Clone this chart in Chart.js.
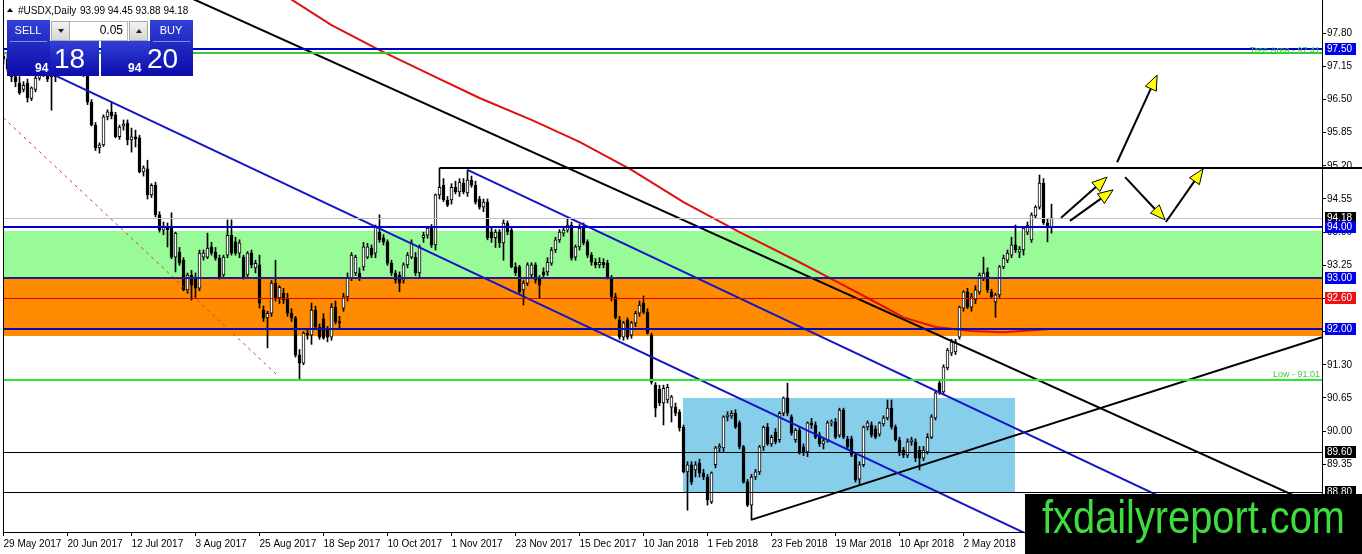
<!DOCTYPE html>
<html>
<head>
<meta charset="utf-8">
<title>#USDX,Daily</title>
<script src="https://cdn.jsdelivr.net/npm/chart.js@4.4.1/dist/chart.umd.min.js"></script>
<style>
  html, body { margin: 0; padding: 0; background: #fff; }
  #wrap { width: 1362px; height: 554px; }
</style>
</head>
<body>
<div id="wrap"><canvas id="usdx" width="1362" height="554"></canvas></div>
<script>
// daily bars, 29 May 2017 .. 31 May 2018 (one per weekday)
const opens = [
  97.35, 97.30, 97.10, 96.95, 96.82, 96.70, 96.82, 96.52, 96.70, 96.92,
  97.20, 97.00, 96.98, 96.95, 97.05, 97.15, 97.50, 97.70, 97.55, 97.35,
  97.20, 96.98, 96.45, 96.00, 95.55, 95.61, 96.16, 96.26, 96.20, 95.77,
  95.98, 96.04, 95.71, 95.77, 95.75, 95.08, 95.14, 94.63, 94.82, 94.24,
  93.94, 94.02, 94.00, 93.41, 93.51, 93.35, 92.77, 93.06, 93.02, 92.80,
  93.41, 93.41, 93.61, 93.51, 93.39, 93.06, 93.45, 93.84, 93.71, 93.49,
  93.41, 93.06, 93.49, 93.20, 93.26, 92.37, 92.22, 92.31, 92.90, 92.61,
  92.70, 92.61, 92.31, 92.22, 91.49, 91.33, 91.92, 91.88, 92.37, 92.04,
  92.20, 91.98, 91.84, 92.43, 92.14, 92.41, 92.63, 93.00, 93.10, 93.10,
  93.22, 93.41, 93.59, 93.49, 93.90, 93.79, 93.71, 93.29, 93.10, 93.06,
  92.96, 93.26, 93.41, 93.41, 93.10, 93.79, 93.84, 93.98, 93.65, 94.63,
  94.82, 94.53, 94.53, 94.78, 94.69, 94.86, 94.67, 94.92, 94.82, 94.55,
  94.39, 94.49, 93.90, 93.79, 93.90, 93.69, 94.08, 93.94, 93.22, 93.22,
  92.77, 92.90, 93.06, 93.26, 93.00, 93.12, 93.12, 93.29, 93.55, 93.75,
  93.88, 93.94, 94.04, 93.41, 93.61, 94.00, 93.71, 93.45, 93.31, 93.26,
  93.31, 93.29, 93.02, 92.63, 92.18, 91.84, 92.18, 91.88, 92.12, 92.31,
  92.51, 92.33, 91.88, 90.90, 90.82, 90.55, 90.61, 90.47, 90.47, 90.37,
  90.08, 89.20, 89.34, 89.24, 89.37, 89.18, 89.10, 88.61, 89.34, 89.67,
  89.67, 90.28, 90.30, 90.35, 90.16, 89.69, 89.00, 88.55, 89.10, 89.20,
  89.69, 90.08, 89.75, 89.98, 89.83, 90.35, 90.65, 90.28, 89.83, 90.02,
  89.69, 89.59, 90.16, 90.12, 89.92, 89.75, 89.83, 90.16, 90.18, 89.92,
  90.41, 89.85, 89.85, 89.53, 89.06, 89.34, 90.08, 90.12, 90.04, 89.94,
  90.14, 90.26, 90.45, 90.08, 89.83, 89.63, 89.53, 89.79, 89.79, 89.63,
  89.47, 89.59, 89.88, 90.26, 90.94, 90.77, 91.24, 91.53, 91.55, 91.84,
  92.41, 92.73, 92.43, 92.57, 92.73, 93.00, 93.12, 92.73, 92.53, 92.67,
  93.22, 93.35, 93.45, 93.65, 93.51, 93.55, 93.90, 93.75, 94.22, 94.39,
  94.86, 94.08, 93.99
];
const highs = [
  97.45, 97.40, 97.15, 97.05, 96.95, 96.85, 96.90, 96.75, 96.98, 97.25,
  97.30, 97.10, 97.02, 97.10, 97.30, 97.55, 97.85, 97.80, 97.60, 97.40,
  97.35, 97.12, 96.50, 96.05, 95.65, 96.20, 96.30, 96.45, 96.25, 96.00,
  96.10, 96.10, 95.94, 95.90, 95.80, 95.20, 95.31, 94.85, 94.88, 94.30,
  94.10, 94.08, 94.28, 93.90, 93.60, 93.40, 93.10, 93.15, 93.10, 93.55,
  93.55, 93.88, 93.70, 93.60, 93.45, 93.45, 94.14, 94.14, 93.80, 93.75,
  93.45, 93.52, 93.55, 93.35, 93.45, 92.45, 92.35, 92.95, 93.35, 92.85,
  92.80, 92.70, 92.40, 92.25, 91.60, 91.95, 92.00, 92.51, 92.45, 92.10,
  92.30, 92.05, 92.50, 92.55, 92.25, 92.70, 93.10, 93.50, 93.45, 93.20,
  93.70, 93.68, 93.65, 94.04, 94.24, 93.85, 93.75, 93.35, 93.15, 93.12,
  93.30, 93.50, 93.75, 93.50, 93.65, 93.90, 94.00, 94.05, 94.65, 95.16,
  94.95, 94.60, 94.85, 94.90, 94.95, 94.95, 95.12, 95.00, 94.90, 94.60,
  94.55, 94.55, 93.98, 93.95, 93.95, 94.14, 94.12, 94.00, 93.30, 93.25,
  92.95, 93.30, 93.30, 93.30, 93.05, 93.20, 93.40, 93.60, 93.80, 93.95,
  94.00, 94.18, 94.10, 93.65, 94.05, 94.08, 93.75, 93.50, 93.38, 93.40,
  93.38, 93.35, 93.05, 92.70, 92.25, 92.15, 92.22, 92.15, 92.35, 92.55,
  92.65, 92.40, 91.92, 90.95, 90.90, 90.90, 90.92, 90.70, 90.55, 90.42,
  90.12, 89.40, 89.40, 89.40, 89.45, 89.25, 89.15, 89.20, 89.70, 89.75,
  90.30, 90.38, 90.40, 90.42, 90.20, 89.72, 89.05, 89.15, 89.25, 89.72,
  90.10, 90.15, 89.92, 90.05, 90.38, 90.67, 90.94, 90.32, 90.05, 90.08,
  89.75, 90.18, 90.25, 90.18, 89.98, 89.85, 90.20, 90.22, 90.25, 90.45,
  90.45, 89.90, 89.90, 89.58, 89.40, 90.10, 90.20, 90.18, 90.10, 90.18,
  90.30, 90.61, 90.61, 90.12, 89.88, 89.68, 89.85, 89.88, 89.85, 89.70,
  89.70, 89.95, 90.32, 90.80, 91.00, 91.30, 91.62, 91.80, 91.80, 92.45,
  92.75, 92.80, 92.70, 92.85, 93.10, 93.41, 93.20, 92.78, 92.70, 93.25,
  93.45, 93.55, 93.80, 94.04, 93.62, 94.00, 94.10, 94.28, 94.42, 95.02,
  94.95, 94.15, 94.45
];
const lows = [
  97.20, 97.05, 96.85, 96.75, 96.60, 96.65, 96.45, 96.48, 96.65, 96.88,
  96.95, 96.85, 96.29, 96.85, 97.00, 97.10, 97.45, 97.45, 97.25, 97.10,
  96.95, 96.40, 95.98, 95.50, 95.45, 95.58, 96.10, 96.12, 95.75, 95.72,
  95.90, 95.61, 95.47, 95.57, 95.06, 95.00, 94.55, 94.58, 94.20, 93.90,
  93.85, 93.61, 93.38, 93.12, 93.25, 92.75, 92.70, 92.57, 92.62, 92.75,
  93.35, 93.38, 93.45, 93.35, 92.98, 93.00, 93.40, 93.45, 93.45, 93.40,
  92.98, 93.00, 93.20, 93.10, 92.41, 92.15, 91.63, 92.25, 92.55, 92.50,
  92.50, 92.25, 92.15, 91.45, 91.01, 91.30, 91.80, 91.70, 92.00, 91.80,
  91.80, 91.75, 91.78, 92.10, 92.00, 92.35, 92.55, 92.95, 93.05, 92.95,
  93.15, 93.38, 93.40, 93.40, 93.70, 93.65, 93.25, 93.05, 92.90, 92.73,
  92.90, 93.20, 93.38, 93.05, 93.00, 93.70, 93.78, 93.60, 93.55, 94.55,
  94.50, 94.40, 94.45, 94.65, 94.60, 94.65, 94.60, 94.78, 94.45, 94.35,
  94.30, 93.75, 93.70, 93.60, 93.60, 93.35, 93.85, 93.20, 93.05, 92.70,
  92.47, 92.85, 93.00, 92.90, 92.61, 93.00, 93.05, 93.25, 93.50, 93.70,
  93.82, 93.90, 93.35, 93.35, 93.55, 93.65, 93.40, 93.25, 93.20, 93.20,
  93.20, 92.98, 92.55, 92.20, 91.80, 91.78, 91.80, 91.82, 92.05, 92.25,
  92.30, 91.90, 90.92, 90.28, 90.50, 90.12, 90.55, 90.18, 90.30, 90.00,
  89.18, 88.45, 88.95, 89.10, 89.10, 89.05, 88.55, 88.58, 89.28, 89.58,
  89.60, 90.20, 90.25, 90.05, 89.65, 88.98, 88.52, 88.26, 89.05, 89.15,
  89.62, 89.72, 89.70, 89.75, 89.78, 90.30, 90.30, 89.92, 89.78, 89.55,
  89.52, 89.50, 90.05, 89.85, 89.70, 89.65, 89.78, 90.10, 89.85, 89.88,
  89.85, 89.65, 89.50, 89.00, 88.95, 89.30, 90.02, 89.88, 89.85, 89.90,
  90.10, 90.22, 90.04, 89.80, 89.52, 89.48, 89.48, 89.72, 89.40, 89.24,
  89.42, 89.55, 89.85, 90.22, 90.72, 90.72, 91.20, 91.48, 91.50, 91.80,
  92.35, 92.40, 92.35, 92.50, 92.68, 92.95, 92.72, 92.60, 92.23, 92.62,
  93.18, 93.30, 93.40, 93.50, 93.40, 93.45, 93.85, 93.70, 94.18, 94.35,
  94.05, 93.71, 93.88
];
const closes = [
  97.30, 97.10, 96.95, 96.85, 96.63, 96.78, 96.53, 96.73, 96.92, 97.20,
  97.00, 96.90, 96.94, 97.05, 97.15, 97.50, 97.70, 97.55, 97.35, 97.20,
  97.05, 96.45, 96.00, 95.55, 95.61, 96.16, 96.26, 96.18, 95.77, 95.96,
  96.02, 95.71, 95.77, 95.73, 95.08, 95.16, 94.63, 94.82, 94.24, 93.94,
  94.02, 93.95, 93.41, 93.88, 93.29, 92.77, 93.06, 92.86, 92.80, 93.49,
  93.49, 93.59, 93.49, 93.39, 93.02, 93.41, 93.84, 93.49, 93.49, 93.69,
  93.02, 93.49, 93.26, 93.29, 92.51, 92.22, 92.31, 92.90, 92.61, 92.82,
  92.57, 92.31, 92.22, 91.49, 91.33, 91.92, 91.88, 92.37, 92.04, 91.84,
  91.82, 91.84, 92.43, 92.14, 92.12, 92.63, 93.00, 93.45, 93.41, 93.00,
  93.61, 93.61, 93.45, 94.00, 93.75, 93.71, 93.29, 93.10, 92.96, 92.90,
  93.26, 93.45, 93.69, 93.10, 93.61, 93.84, 93.98, 93.65, 94.63, 94.78,
  94.53, 94.43, 94.78, 94.69, 94.88, 94.69, 94.92, 94.82, 94.49, 94.39,
  94.49, 93.79, 93.79, 93.90, 93.69, 94.08, 93.90, 93.22, 93.10, 92.73,
  92.90, 93.26, 93.26, 92.96, 92.86, 93.06, 93.31, 93.55, 93.75, 93.90,
  93.94, 94.04, 93.39, 93.61, 93.98, 93.69, 93.45, 93.31, 93.26, 93.31,
  93.26, 93.02, 92.63, 92.23, 91.84, 92.12, 91.84, 92.12, 92.31, 92.47,
  92.33, 91.92, 90.96, 90.45, 90.55, 90.84, 90.86, 90.67, 90.35, 90.06,
  89.20, 89.34, 89.00, 89.34, 89.18, 89.10, 88.65, 89.18, 89.67, 89.70,
  90.28, 90.32, 90.35, 90.08, 89.69, 89.00, 88.55, 89.10, 89.20, 89.69,
  90.08, 89.75, 89.88, 89.79, 90.35, 90.65, 90.35, 89.96, 90.02, 89.59,
  89.59, 90.16, 90.12, 89.88, 89.75, 89.81, 90.16, 90.18, 89.88, 90.41,
  89.88, 89.69, 89.53, 89.04, 89.34, 90.08, 90.16, 89.92, 89.88, 90.16,
  90.26, 90.45, 90.08, 89.83, 89.57, 89.53, 89.79, 89.83, 89.47, 89.47,
  89.63, 89.88, 90.28, 90.75, 90.75, 91.26, 91.59, 91.75, 91.75, 92.43,
  92.73, 92.43, 92.63, 92.77, 93.06, 93.10, 92.77, 92.63, 92.67, 93.22,
  93.39, 93.49, 93.65, 93.55, 93.57, 93.98, 94.04, 94.24, 94.39, 94.86,
  94.08, 94.00, 94.18
];

// one label every 16 bars
const dateLabels = ['29 May 2017', '20 Jun 2017', '12 Jul 2017', '3 Aug 2017', '25 Aug 2017',
  '18 Sep 2017', '10 Oct 2017', '1 Nov 2017', '23 Nov 2017', '15 Dec 2017', '10 Jan 2018',
  '1 Feb 2018', '23 Feb 2018', '19 Mar 2018', '10 Apr 2018', '2 May 2018'];
const priceTicks = [97.80, 97.15, 96.50, 95.85, 95.20, 94.55, 93.90, 93.25, 92.60, 91.95,
  91.30, 90.65, 90.00, 89.35, 88.70];

// red moving average
const maBars = [69, 82, 94, 107, 119, 132, 144, 157, 170, 184, 199, 209, 217, 225, 233, 242, 250, 262];
const maValues = [98.61, 97.96, 97.47, 96.98, 96.53, 96.10, 95.67, 95.12, 94.49, 93.90, 93.31,
  92.90, 92.57, 92.23, 92.04, 91.96, 91.94, 92.00];

// drawn objects (bar index, price)
const trendBlack = [[46, 98.52], [329.6, 88.49]];
const trendBlue = [[4, 97.30], [264, 87.68]];
const channelBlue = [[116, 95.12], [329.6, 87.22]];
const supportBlack = [[186.9, 88.26], [329.6, 91.84]];
const dashedRed = [[0, 96.14], [68.4, 91.10]];
const arrows = [
  [[264.4, 94.18], [275.9, 94.98]],
  [[266.6, 94.12], [277.4, 94.73]],
  [[278.4, 95.27], [288.4, 96.98]],
  [[280.4, 94.98], [290.4, 94.14]],
  [[290.6, 94.10], [299.9, 95.14]]
];
const greenZone = [93.92, 93.02];
const orangeZone = [93.00, 91.86];
const boxBars = [169.9, 252.9];
const boxPrices = [90.65, 88.80];
const novHigh = 95.15, novBar = 109;
const treeArea = 97.41, lowLevel = 91.01;
const bid = 94.18;
const lastBar = { open: 93.99, high: 94.45, low: 93.88, close: 94.18 };

const FONT = 'Liberation Sans';
Chart.defaults.font.family = FONT;
Chart.defaults.font.size = 10;
Chart.defaults.color = '#000';

const pts = arr => arr.map(([x, y]) => ({ x, y }));
const lineSet = (pairs, color, width, dash) => ({
  type: 'line', data: pts(pairs), borderColor: color, borderWidth: width,
  borderDash: dash || [], pointRadius: 0, order: 0, clip: 0
});

function arrow(ctx, x1, y1, x2, y2) {
  const a = Math.atan2(y2 - y1, x2 - x1);
  const len = 15, half = 6;
  const bx = x2 - len * Math.cos(a), by = y2 - len * Math.sin(a);
  ctx.strokeStyle = '#000';
  ctx.lineWidth = 2;
  ctx.beginPath(); ctx.moveTo(x1, y1); ctx.lineTo(bx, by); ctx.stroke();
  ctx.beginPath();
  ctx.moveTo(x2, y2);
  ctx.lineTo(bx + half * Math.sin(a), by - half * Math.cos(a));
  ctx.lineTo(bx - half * Math.sin(a), by + half * Math.cos(a));
  ctx.closePath();
  ctx.fillStyle = '#ffff00';
  ctx.fill();
  ctx.lineWidth = 1;
  ctx.stroke();
}

function bluePanel(ctx, x, y, w, h) {
  const g = ctx.createLinearGradient(0, y, 0, y + h);
  g.addColorStop(0, '#3140d6');
  g.addColorStop(1, '#0c0caa');
  ctx.fillStyle = g;
  ctx.fillRect(x, y, w, h);
}

function tri(ctx, cx, cy, up) {
  ctx.beginPath();
  ctx.moveTo(cx - 3, up ? cy + 2 : cy - 2);
  ctx.lineTo(cx + 3, up ? cy + 2 : cy - 2);
  ctx.lineTo(cx, up ? cy - 2 : cy + 2);
  ctx.closePath();
  ctx.fill();
}

const overlay = {
  id: 'overlay',
  beforeDatasetsDraw(chart) {
    const { ctx, chartArea: a, scales: { x, y } } = chart;
    ctx.save();
    ctx.beginPath(); ctx.rect(a.left, a.top, a.width, a.height); ctx.clip();
    const band = (hi, lo, color, x0, x1) => {
      const y0 = y.getPixelForValue(hi), y1 = y.getPixelForValue(lo);
      ctx.fillStyle = color;
      ctx.fillRect(x0, Math.round(y0), x1 - x0, Math.round(y1) - Math.round(y0));
    };
    band(greenZone[0], greenZone[1], '#98fb98', a.left, a.right);
    band(orangeZone[0], orangeZone[1], '#ff8c00', a.left, a.right);
    band(boxPrices[0], boxPrices[1], '#87ceeb',
      Math.round(x.getPixelForValue(boxBars[0])), Math.round(x.getPixelForValue(boxBars[1])));
    ctx.restore();
  },
  afterDatasetsDraw(chart) {
    const { ctx, chartArea: a, scales: { x, y } } = chart;
    ctx.save();
    const hl = (p, color, w, x0 = a.left, x1 = a.right) => {
      const py = Math.round(y.getPixelForValue(p));
      ctx.fillStyle = color;
      ctx.fillRect(x0, w === 2 ? py - 1 : py, x1 - x0, w);
    };
    hl(97.50, '#0000cd', 2);
    hl(treeArea, '#32cd32', 2);
    hl(bid, '#c0c0c0', 1);
    hl(94.00, '#0000cd', 2);
    hl(93.00, '#1e1e8c', 2);
    hl(92.60, '#e00000', 1);
    hl(92.00, '#0a0ab4', 2);
    hl(lowLevel, '#2ee62e', 2);
    hl(89.60, '#000', 1);
    hl(88.80, '#000', 1);
    hl(novHigh, '#000', 2, Math.round(x.getPixelForValue(novBar)), chart.width);
    ctx.restore();
  },
  afterDraw(chart) {
    const { ctx, chartArea: a, scales: { x, y } } = chart;
    ctx.save();
    // left frame line
    ctx.fillStyle = '#000';
    ctx.fillRect(a.left, a.top, 1, a.height);

    // level texts
    ctx.font = '9px ' + FONT;
    ctx.textAlign = 'right';
    ctx.textBaseline = 'middle';
    ctx.fillStyle = '#3ccf3c';
    ctx.fillText('Tree Area - ' + treeArea.toFixed(2), a.right - 2, y.getPixelForValue(treeArea) - 3);
    ctx.fillText('Low - ' + lowLevel.toFixed(2), a.right - 2, y.getPixelForValue(lowLevel) - 5);

    // arrows
    ctx.save();
    ctx.beginPath(); ctx.rect(a.left, a.top, a.width, a.height); ctx.clip();
    arrows.forEach(([[i1, p1], [i2, p2]]) => arrow(ctx,
      x.getPixelForValue(i1), y.getPixelForValue(p1), x.getPixelForValue(i2), y.getPixelForValue(p2)));
    ctx.restore();

    // price tags on the right scale
    const tag = (p, bg) => {
      const py = Math.round(y.getPixelForValue(p));
      ctx.fillStyle = bg;
      ctx.fillRect(a.right + 3, py - 6, 31, 12);
      ctx.fillStyle = '#fff';
      ctx.textAlign = 'left';
      ctx.textBaseline = 'middle';
      ctx.font = '10px ' + FONT;
      ctx.fillText(p.toFixed(2), a.right + 5, py + 0.5);
    };
    tag(97.50, '#0000e8');
    tag(bid, '#000');
    tag(94.00, '#0000e8');
    tag(93.00, '#0000e8');
    tag(92.60, '#ee1111');
    tag(92.00, '#0000e8');
    tag(89.60, '#000');
    tag(88.80, '#000');

    // watermark
    ctx.fillStyle = '#000';
    ctx.fillRect(1025, 494, chart.width - 1025, chart.height - 494);
    ctx.font = '46px ' + FONT;
    ctx.textAlign = 'left';
    ctx.textBaseline = 'alphabetic';
    const wm = 'fxdailyreport.com';
    const sx = 303 / ctx.measureText(wm).width;
    ctx.save();
    ctx.translate(1042, 533);
    ctx.scale(sx, 1);
    ctx.fillStyle = '#3fdc3f';
    ctx.fillText(wm, 0, 0);
    ctx.restore();

    // header line
    ctx.fillStyle = '#000';
    tri(ctx, 10, 10, true);
    ctx.font = '10px ' + FONT;
    ctx.textBaseline = 'middle';
    ctx.fillText('#USDX,Daily', 18, 11);
    ctx.fillText([lastBar.open, lastBar.high, lastBar.low, lastBar.close].map(v => v.toFixed(2)).join(' '), 80, 11);

    // one-click trading panel
    bluePanel(ctx, 7, 20, 43, 56);
    bluePanel(ctx, 50, 41, 49, 35);
    bluePanel(ctx, 150, 20, 43, 56);
    bluePanel(ctx, 101, 41, 49, 35);
    ctx.fillStyle = 'rgba(255,255,255,0.45)';
    ctx.fillRect(10, 41, 37, 1);
    ctx.fillRect(153, 41, 37, 1);
    const btn = (bx, up) => {
      const g = ctx.createLinearGradient(0, 21, 0, 41);
      g.addColorStop(0, '#f4f4f4'); g.addColorStop(1, '#d4d4d4');
      ctx.fillStyle = g;
      ctx.fillRect(bx, 21, 19, 20);
      ctx.strokeStyle = '#a8a8a8'; ctx.lineWidth = 1;
      ctx.strokeRect(bx + 0.5, 21.5, 18, 19);
      ctx.fillStyle = '#222';
      tri(ctx, bx + 10, 31, up);
    };
    ctx.fillStyle = '#fff';
    ctx.fillRect(70, 21, 58, 20);
    ctx.strokeStyle = '#b8b8b8';
    ctx.strokeRect(69.5, 21.5, 58, 19);
    btn(51, false);
    btn(129, true);
    ctx.fillStyle = '#000';
    ctx.font = '12px ' + FONT;
    ctx.textAlign = 'right';
    ctx.fillText('0.05', 123, 31);
    ctx.fillStyle = '#fff';
    ctx.textAlign = 'center';
    ctx.font = '11px ' + FONT;
    ctx.fillText('SELL', 28, 31);
    ctx.fillText('BUY', 171, 31);
    ctx.textAlign = 'left';
    ctx.textBaseline = 'alphabetic';
    ctx.font = 'bold 12px ' + FONT;
    ctx.fillText('94', 35, 72);
    ctx.fillText('94', 128, 72);
    ctx.font = '28px ' + FONT;
    ctx.fillText('18', 54, 68);
    ctx.fillText('20', 147, 68);
    ctx.restore();
  }
};

const ctx = document.getElementById('usdx').getContext('2d');
new Chart(ctx, {
  type: 'bar',
  data: {
    datasets: [
      lineSet(maBars.map((b, k) => [b, maValues[k]]), '#e01010', 2),
      lineSet(trendBlack, '#000', 2),
      lineSet(trendBlue, '#1414c8', 2),
      lineSet(channelBlue, '#1414c8', 2),
      lineSet(supportBlack, '#000', 2),
      lineSet(dashedRed, '#e03030', 1, [3, 4]),
      {
        label: 'body',
        data: opens.map((o, i) => ({ x: i, y: [o, closes[i]] })),
        backgroundColor: c => closes[c.dataIndex] >= opens[c.dataIndex] ? '#fff' : '#000',
        borderColor: '#000',
        borderWidth: 1,
        borderSkipped: false,
        barThickness: 3,
        minBarLength: 1,
        grouped: false,
        order: 1
      },
      {
        label: 'wick',
        data: lows.map((l, i) => ({ x: i, y: [l, highs[i]] })),
        backgroundColor: '#000',
        borderWidth: 0,
        barThickness: 1,
        grouped: false,
        order: 2
      }
    ]
  },
  options: {
    responsive: false,
    animation: false,
    events: [],
    layout: { padding: { left: 3, right: 0, top: 0, bottom: 0 } },
    plugins: { legend: { display: false }, tooltip: { enabled: false } },
    elements: { line: { tension: 0 } },
    scales: {
      x: {
        type: 'linear',
        min: -0.125,
        max: 329.625,
        offset: false,
        afterBuildTicks: s => { s.ticks = dateLabels.map((_, k) => ({ value: k * 16 })); },
        afterFit: s => { s.height = 22; s.paddingLeft = 0; s.paddingRight = 0; },
        ticks: {
          autoSkip: false, maxRotation: 0, minRotation: 0, align: 'start', padding: 2,
          callback: (v, k) => dateLabels[k],
          font: { size: 10 }
        },
        grid: { drawOnChartArea: false, tickLength: 4, color: '#000', offset: false },
        border: { color: '#000' }
      },
      y: {
        type: 'linear',
        position: 'right',
        min: 88.022,
        max: 98.451,
        afterBuildTicks: s => { s.ticks = priceTicks.map(v => ({ value: v })); },
        afterFit: s => { s.width = 40; s.paddingTop = 0; s.paddingBottom = 0; },
        ticks: { autoSkip: false, padding: 1, callback: v => v.toFixed(2), font: { size: 10 } },
        grid: { drawOnChartArea: false, tickLength: 4, color: '#000' },
        border: { color: '#000' }
      }
    }
  },
  plugins: [overlay]
});
</script>
</body>
</html>
